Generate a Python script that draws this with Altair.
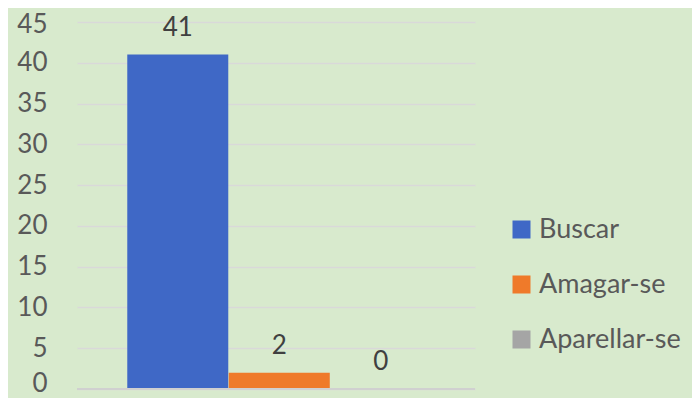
import altair as alt
import pandas as pd

series = ["Buscar", "Amagar-se", "Aparellar-se"]
values = [41, 2, 0]
colors = ["#3f68c6", "#ef7a2a", "#a5a5a5"]
y_ticks = [0, 5, 10, 15, 20, 25, 30, 35, 40, 45]

df = pd.DataFrame({"serie": series, "valor": values})

FONT = "Lato"

x_enc = alt.X("serie:N", sort=series, axis=None,
              scale=alt.Scale(paddingInner=0, paddingOuter=0.4606, align=0.535))

bars = alt.Chart(df).mark_bar(size=101).encode(
    x=x_enc,
    y=alt.Y("valor:Q", scale=alt.Scale(domain=[0, 45], nice=False),
            axis=alt.Axis(values=y_ticks, title=None, domain=False, ticks=False,
                          labelFontSize=26, labelColor="#595959", labelFont=FONT,
                          labelPadding=30, gridColor="#d9d9d9", gridWidth=1.5,
                          labelOffset={"condition": [
                              {"test": "datum.value == 0", "value": -6},
                              {"test": "datum.value == 45", "value": 2}],
                              "value": 0})),
    color=alt.Color("serie:N", sort=series,
                    scale=alt.Scale(domain=series, range=colors),
                    legend=alt.Legend(title=None, orient="none", legendX=431, legendY=194,
                                      symbolType="square", symbolSize=324,
                                      symbolStrokeWidth=0, labelFontSize=27,
                                      labelFont=FONT, labelColor="#595959",
                                      rowPadding=27, labelOffset=4)),
)

labels = alt.Chart(df).mark_text(baseline="alphabetic", dy=-19, fontSize=26,
                                 font=FONT, color="#404040").encode(
    x=x_enc,
    y=alt.Y("valor:Q"),
    text=alt.Text("valor:Q"),
)

baseline = alt.Chart(df).mark_rule(color="#d0d0d0", strokeWidth=2).encode(
    y=alt.datum(0)
)

chart = alt.layer(bars, baseline, labels).properties(
    width=398, height=367,
    autosize=alt.AutoSizeParams(type="none"),
    padding={"left": 69, "top": 14, "right": 217, "bottom": 9},
    background="#d8eacd",
).configure_view(stroke=None)

chart.save("out.html", embed_options={"renderer": "svg", "actions": False})
